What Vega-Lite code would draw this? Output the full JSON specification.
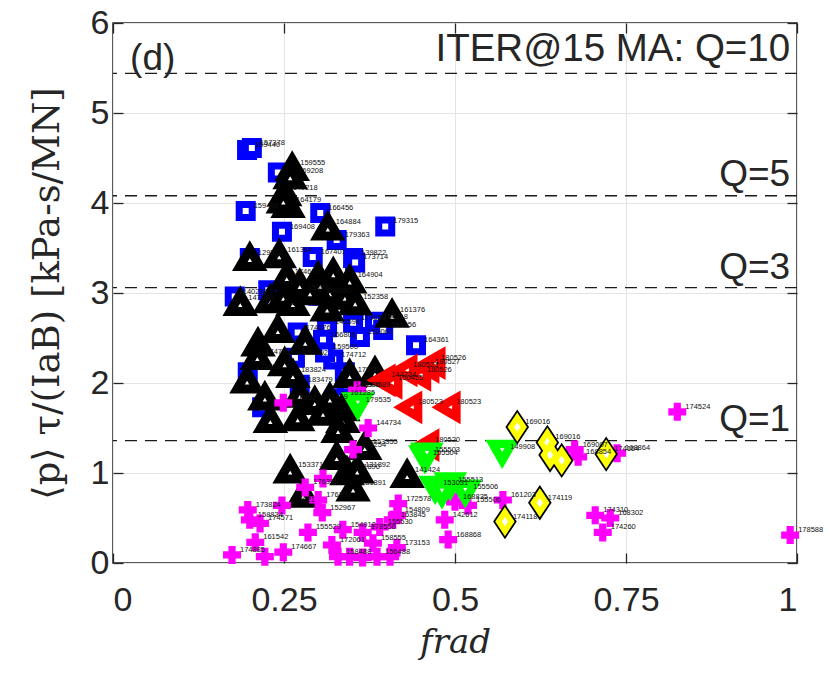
{
  "$schema": "https://vega.github.io/schema/vega-lite/v6.json",
  "autosize": "none",
  "width": 684,
  "height": 540,
  "padding": {"left": 113, "top": 23, "right": 33, "bottom": 113},
  "background": "white",
  "config": {
    "view": {"stroke": "#262626", "strokeWidth": 1.5},
    "axis": {
      "domain": false,
      "grid": true,
      "gridColor": "#e4e4e4",
      "gridWidth": 1,
      "ticks": true,
      "tickColor": "#262626",
      "tickSize": -10,
      "tickWidth": 1.3,
      "labelFont": "Liberation Sans",
      "labelFontSize": 34,
      "labelColor": "#262626",
      "titleColor": "#262626"
    }
  },
  "resolve": {"axis": {"x": "independent", "y": "independent"}},
  "datasets": {
    "pts": [
      {"s":"B","x":0.196,"y":4.59,"l":"169440"},
      {"s":"B","x":0.203,"y":4.61,"l":"157378"},
      {"s":"B","x":0.241,"y":4.34,"l":""},
      {"s":"B","x":0.194,"y":3.91,"l":"159448"},
      {"s":"B","x":0.303,"y":3.89,"l":"166456"},
      {"s":"B","x":0.247,"y":3.68,"l":"169408"},
      {"s":"B","x":0.398,"y":3.74,"l":"179315"},
      {"s":"B","x":0.327,"y":3.59,"l":"179363"},
      {"s":"B","x":0.292,"y":3.40,"l":"167401"},
      {"s":"B","x":0.351,"y":3.39,"l":"139822"},
      {"s":"B","x":0.354,"y":3.34,"l":"173714"},
      {"s":"B","x":0.200,"y":3.39,"l":"129538"},
      {"s":"B","x":0.178,"y":2.96,"l":"140288"},
      {"s":"B","x":0.227,"y":3.03,"l":""},
      {"s":"B","x":0.273,"y":3.00,"l":"158091"},
      {"s":"B","x":0.300,"y":2.97,"l":"158060"},
      {"s":"B","x":0.339,"y":3.03,"l":""},
      {"s":"B","x":0.313,"y":2.62,"l":"146598"},
      {"s":"B","x":0.351,"y":2.67,"l":"179858"},
      {"s":"B","x":0.361,"y":2.51,"l":"150060"},
      {"s":"B","x":0.383,"y":2.68,"l":"164318"},
      {"s":"B","x":0.395,"y":2.59,"l":"155456"},
      {"s":"B","x":0.307,"y":2.48,"l":"166808"},
      {"s":"B","x":0.322,"y":2.26,"l":"174712"},
      {"s":"B","x":0.270,"y":2.56,"l":"174676"},
      {"s":"B","x":0.197,"y":2.12,"l":"174653"},
      {"s":"B","x":0.218,"y":1.73,"l":""},
      {"s":"B","x":0.443,"y":2.42,"l":"164361"},
      {"s":"B","x":0.339,"y":2.12,"l":""},
      {"s":"B","x":0.342,"y":1.92,"l":"148386"},
      {"s":"B","x":0.335,"y":1.83,"l":"161285"},
      {"s":"B","x":0.310,"y":2.34,"l":"159500"},
      {"s":"B","x":0.266,"y":2.28,"l":"152392"},
      {"s":"B","x":0.273,"y":1.98,"l":"183479"},
      {"s":"K","x":0.262,"y":4.39,"l":"159555"},
      {"s":"K","x":0.259,"y":4.30,"l":"169208"},
      {"s":"K","x":0.251,"y":4.11,"l":"149218"},
      {"s":"K","x":0.256,"y":3.98,"l":"164179"},
      {"s":"K","x":0.249,"y":4.03,"l":""},
      {"s":"K","x":0.314,"y":3.73,"l":"164884"},
      {"s":"K","x":0.200,"y":3.39,"l":""},
      {"s":"K","x":0.243,"y":3.42,"l":"161364"},
      {"s":"K","x":0.254,"y":3.18,"l":"174610"},
      {"s":"K","x":0.300,"y":3.18,"l":""},
      {"s":"K","x":0.322,"y":3.22,"l":""},
      {"s":"K","x":0.346,"y":3.14,"l":"164904"},
      {"s":"K","x":0.273,"y":3.09,"l":""},
      {"s":"K","x":0.303,"y":3.09,"l":""},
      {"s":"K","x":0.186,"y":2.89,"l":"147360"},
      {"s":"K","x":0.230,"y":2.92,"l":""},
      {"s":"K","x":0.249,"y":2.96,"l":""},
      {"s":"K","x":0.263,"y":2.89,"l":""},
      {"s":"K","x":0.288,"y":3.01,"l":""},
      {"s":"K","x":0.317,"y":3.01,"l":""},
      {"s":"K","x":0.339,"y":2.96,"l":""},
      {"s":"K","x":0.354,"y":2.90,"l":"152358"},
      {"s":"K","x":0.313,"y":2.83,"l":""},
      {"s":"K","x":0.408,"y":2.76,"l":"161376"},
      {"s":"K","x":0.241,"y":2.59,"l":""},
      {"s":"K","x":0.212,"y":2.44,"l":""},
      {"s":"K","x":0.281,"y":2.46,"l":""},
      {"s":"K","x":0.211,"y":2.29,"l":"174753"},
      {"s":"K","x":0.251,"y":2.22,"l":""},
      {"s":"K","x":0.196,"y":2.03,"l":""},
      {"s":"K","x":0.222,"y":1.84,"l":""},
      {"s":"K","x":0.263,"y":2.09,"l":"183824"},
      {"s":"K","x":0.273,"y":1.87,"l":""},
      {"s":"K","x":0.295,"y":1.79,"l":"183469"},
      {"s":"K","x":0.317,"y":1.83,"l":""},
      {"s":"K","x":0.336,"y":1.72,"l":""},
      {"s":"K","x":0.346,"y":2.09,"l":"175684"},
      {"s":"K","x":0.383,"y":2.12,"l":""},
      {"s":"K","x":0.336,"y":1.59,"l":""},
      {"s":"K","x":0.230,"y":1.59,"l":""},
      {"s":"K","x":0.270,"y":1.61,"l":""},
      {"s":"K","x":0.307,"y":1.67,"l":""},
      {"s":"K","x":0.329,"y":1.48,"l":""},
      {"s":"K","x":0.368,"y":1.29,"l":"153355"},
      {"s":"K","x":0.259,"y":1.03,"l":"153371"},
      {"s":"K","x":0.327,"y":1.18,"l":""},
      {"s":"K","x":0.342,"y":1.01,"l":"151890"},
      {"s":"K","x":0.357,"y":1.03,"l":"131892"},
      {"s":"K","x":0.351,"y":0.83,"l":"131891"},
      {"s":"K","x":0.430,"y":0.98,"l":"141424"},
      {"s":"K","x":0.278,"y":0.76,"l":""},
      {"s":"P","x":0.825,"y":1.68,"l":"174524"},
      {"s":"P","x":0.737,"y":1.22,"l":"168864"},
      {"s":"P","x":0.675,"y":1.26,"l":"169007"},
      {"s":"P","x":0.680,"y":1.18,"l":"168854"},
      {"s":"P","x":0.705,"y":0.53,"l":"174310"},
      {"s":"P","x":0.727,"y":0.50,"l":"168302"},
      {"s":"P","x":0.716,"y":0.34,"l":"174260"},
      {"s":"P","x":0.990,"y":0.31,"l":"178588"},
      {"s":"P","x":0.570,"y":0.70,"l":"161203"},
      {"s":"P","x":0.485,"y":0.48,"l":"142612"},
      {"s":"P","x":0.490,"y":0.26,"l":"168868"},
      {"s":"P","x":0.500,"y":0.68,"l":"168835"},
      {"s":"P","x":0.519,"y":0.64,"l":"155506"},
      {"s":"P","x":0.417,"y":0.66,"l":"172578"},
      {"s":"P","x":0.415,"y":0.53,"l":"154809"},
      {"s":"P","x":0.174,"y":0.09,"l":"174885"},
      {"s":"P","x":0.197,"y":0.59,"l":"173824"},
      {"s":"P","x":0.200,"y":0.48,"l":"158834"},
      {"s":"P","x":0.215,"y":0.44,"l":"174571"},
      {"s":"P","x":0.208,"y":0.23,"l":"161542"},
      {"s":"P","x":0.222,"y":0.07,"l":""},
      {"s":"P","x":0.249,"y":0.12,"l":"174667"},
      {"s":"P","x":0.247,"y":0.64,"l":"173821"},
      {"s":"P","x":0.281,"y":0.84,"l":"176396"},
      {"s":"P","x":0.300,"y":0.70,"l":"176391"},
      {"s":"P","x":0.306,"y":0.56,"l":"152967"},
      {"s":"P","x":0.285,"y":0.34,"l":"155529"},
      {"s":"P","x":0.336,"y":0.37,"l":"154912"},
      {"s":"P","x":0.320,"y":0.20,"l":"172061"},
      {"s":"P","x":0.329,"y":0.07,"l":"158488"},
      {"s":"P","x":0.346,"y":0.07,"l":""},
      {"s":"P","x":0.365,"y":0.06,"l":""},
      {"s":"P","x":0.386,"y":0.07,"l":"156488"},
      {"s":"P","x":0.405,"y":0.07,"l":""},
      {"s":"P","x":0.365,"y":0.34,"l":"178558"},
      {"s":"P","x":0.390,"y":0.40,"l":"155530"},
      {"s":"P","x":0.409,"y":0.48,"l":"163845"},
      {"s":"P","x":0.380,"y":0.22,"l":"158555"},
      {"s":"P","x":0.415,"y":0.17,"l":"173153"},
      {"s":"P","x":0.307,"y":0.94,"l":""},
      {"s":"P","x":0.373,"y":1.50,"l":"144734"},
      {"s":"P","x":0.351,"y":1.26,"l":"138254"},
      {"s":"P","x":0.249,"y":1.78,"l":"176852"},
      {"s":"P","x":0.357,"y":1.92,"l":"174689"},
      {"s":"R","x":0.395,"y":2.03,"l":"144734"},
      {"s":"R","x":0.405,"y":2.00,"l":"150455"},
      {"s":"R","x":0.427,"y":2.14,"l":"180523"},
      {"s":"R","x":0.447,"y":2.09,"l":"180526"},
      {"s":"R","x":0.459,"y":2.18,"l":"180527"},
      {"s":"R","x":0.468,"y":2.22,"l":"180526"},
      {"s":"R","x":0.434,"y":1.73,"l":"180523"},
      {"s":"R","x":0.490,"y":1.73,"l":"180523"},
      {"s":"R","x":0.459,"y":1.31,"l":"180520"},
      {"s":"G","x":0.358,"y":1.76,"l":"179535"},
      {"s":"G","x":0.456,"y":1.17,"l":"155504"},
      {"s":"G","x":0.459,"y":1.20,"l":"155503"},
      {"s":"G","x":0.569,"y":1.23,"l":"149908"},
      {"s":"G","x":0.471,"y":0.83,"l":"153031"},
      {"s":"G","x":0.493,"y":0.87,"l":"155513"},
      {"s":"G","x":0.515,"y":0.79,"l":"155506"},
      {"s":"G","x":0.481,"y":0.78,"l":""},
      {"s":"Y","x":0.591,"y":1.51,"l":"169016"},
      {"s":"Y","x":0.635,"y":1.34,"l":"169016"},
      {"s":"Y","x":0.639,"y":1.20,"l":""},
      {"s":"Y","x":0.656,"y":1.14,"l":""},
      {"s":"Y","x":0.721,"y":1.21,"l":"174164"},
      {"s":"Y","x":0.624,"y":0.67,"l":"174119"},
      {"s":"Y","x":0.573,"y":0.46,"l":"174118"}
    ],
    "qlines": [{"q":5.44},{"q":4.08},{"q":3.06},{"q":1.36}],
    "one": [{}]
  },
  "layer": [
    {
      "data": {"name": "qlines"},
      "mark": {"type": "rule", "color": "#1a1a1a", "strokeWidth": 1.4, "strokeDash": [12, 8]},
      "encoding": {
        "y": {"field": "q", "type": "quantitative", "scale": {"domain": [0, 6], "nice": false},
          "axis": {"values": [0,1,2,3,4,5,6], "labelExpr": "format(datum.value, 'd')", "labelPadding": 14,
            "title": "⟨p⟩ τ/(IaB) [kPa-s/MN]", "titleFont": "DejaVu Serif", "titleFontSize": 37, "titleFontWeight": "normal", "titlePadding": 24}}
      }
    },
    {
      "data": {"name": "pts"},
      "transform": [{"filter": "datum.s == 'B'"}],
      "mark": {"type": "point", "shape": "square", "size": 169, "filled": false, "fill": "white", "fillOpacity": 1, "stroke": "#0000ff", "strokeWidth": 7, "opacity": 1},
      "encoding": {
        "x": {"field": "x", "type": "quantitative", "scale": {"domain": [0, 1], "nice": false},
          "axis": {"values": [0, 0.25, 0.5, 0.75, 1], "labelExpr": "format(datum.value, '.2~f')", "labelPadding": 30,
            "title": "frad", "titleFont": "DejaVu Serif", "titleFontSize": 34, "titleFontStyle": "italic", "titleFontWeight": "normal", "titlePadding": 8}},
        "y": {"field": "y", "type": "quantitative", "axis": null}
      }
    },
    {
      "data": {"name": "pts"},
      "transform": [{"filter": "datum.s == 'K'"}],
      "mark": {"type": "point", "shape": "triangle-up", "size": 400, "filled": false, "fill": "white", "fillOpacity": 1, "stroke": "black", "strokeWidth": 9, "opacity": 1},
      "encoding": {
        "x": {"field": "x", "type": "quantitative", "axis": null},
        "y": {"field": "y", "type": "quantitative", "axis": null}
      }
    },
    {
      "data": {"name": "pts"},
      "transform": [{"filter": "datum.s == 'P'"}],
      "mark": {"type": "point", "shape": "cross", "size": 324, "filled": true, "color": "#ff00ff", "opacity": 1},
      "encoding": {
        "x": {"field": "x", "type": "quantitative", "axis": null},
        "y": {"field": "y", "type": "quantitative", "axis": null}
      }
    },
    {
      "data": {"name": "pts"},
      "transform": [{"filter": "datum.s == 'R'"}],
      "mark": {"type": "point", "shape": "triangle-left", "size": 360, "filled": false, "fill": "white", "fillOpacity": 1, "stroke": "#ff0000", "strokeWidth": 8.5, "opacity": 1},
      "encoding": {
        "x": {"field": "x", "type": "quantitative", "axis": null},
        "y": {"field": "y", "type": "quantitative", "axis": null}
      }
    },
    {
      "data": {"name": "pts"},
      "transform": [{"filter": "datum.s == 'G'"}],
      "mark": {"type": "point", "shape": "triangle-down", "size": 360, "filled": false, "fill": "white", "fillOpacity": 1, "stroke": "#00ff00", "strokeWidth": 8.5, "opacity": 1},
      "encoding": {
        "x": {"field": "x", "type": "quantitative", "axis": null},
        "y": {"field": "y", "type": "quantitative", "axis": null}
      }
    },
    {
      "data": {"name": "pts"},
      "transform": [{"filter": "datum.s == 'Y'"}],
      "mark": {"type": "point", "shape": "M0,-1.2L0.8,0L0,1.2L-0.8,0Z", "size": 256, "filled": false, "fill": "white", "fillOpacity": 1, "stroke": "black", "strokeWidth": 9, "opacity": 1},
      "encoding": {
        "x": {"field": "x", "type": "quantitative", "axis": null},
        "y": {"field": "y", "type": "quantitative", "axis": null}
      }
    },
    {
      "data": {"name": "pts"},
      "transform": [{"filter": "datum.s == 'Y'"}],
      "mark": {"type": "point", "shape": "M0,-1.2L0.8,0L0,1.2L-0.8,0Z", "size": 256, "filled": false, "fill": "white", "fillOpacity": 1, "stroke": "#ffff00", "strokeWidth": 5.5, "opacity": 1},
      "encoding": {
        "x": {"field": "x", "type": "quantitative", "axis": null},
        "y": {"field": "y", "type": "quantitative", "axis": null}
      }
    },
    {
      "data": {"name": "pts"},
      "transform": [{"filter": "datum.l != ''"}],
      "mark": {"type": "text", "font": "Liberation Sans", "fontSize": 7.5, "align": "left", "baseline": "middle", "dx": 8, "dy": -5, "color": "#111111"},
      "encoding": {
        "x": {"field": "x", "type": "quantitative",
          "axis": {"orient": "top", "values": [0, 0.25, 0.5, 0.75, 1], "labels": false, "grid": false, "title": null}},
        "y": {"field": "y", "type": "quantitative",
          "axis": {"orient": "right", "values": [0,1,2,3,4,5,6], "labels": false, "grid": false, "title": null}},
        "text": {"field": "l"}
      }
    },
    {
      "data": {"name": "one"},
      "mark": {"type": "text", "font": "Liberation Sans", "fontSize": 37, "align": "left", "baseline": "middle", "color": "#262626"},
      "encoding": {"x": {"datum": 0.025, "axis": null}, "y": {"datum": 5.6, "axis": null}, "text": {"value": "(d)"}}
    },
    {
      "data": {"name": "one"},
      "mark": {"type": "text", "font": "Liberation Sans", "fontSize": 38.5, "align": "right", "baseline": "middle", "color": "#262626"},
      "encoding": {"x": {"datum": 0.99, "axis": null}, "y": {"datum": 5.71, "axis": null}, "text": {"value": "ITER@15 MA: Q=10"}}
    },
    {
      "data": {"name": "one"},
      "mark": {"type": "text", "font": "Liberation Sans", "fontSize": 37, "align": "right", "baseline": "middle", "color": "#262626"},
      "encoding": {"x": {"datum": 0.99, "axis": null}, "y": {"datum": 4.31, "axis": null}, "text": {"value": "Q=5"}}
    },
    {
      "data": {"name": "one"},
      "mark": {"type": "text", "font": "Liberation Sans", "fontSize": 37, "align": "right", "baseline": "middle", "color": "#262626"},
      "encoding": {"x": {"datum": 0.99, "axis": null}, "y": {"datum": 3.28, "axis": null}, "text": {"value": "Q=3"}}
    },
    {
      "data": {"name": "one"},
      "mark": {"type": "text", "font": "Liberation Sans", "fontSize": 37, "align": "right", "baseline": "middle", "color": "#262626"},
      "encoding": {"x": {"datum": 0.99, "axis": null}, "y": {"datum": 1.59, "axis": null}, "text": {"value": "Q=1"}}
    }
  ]
}
